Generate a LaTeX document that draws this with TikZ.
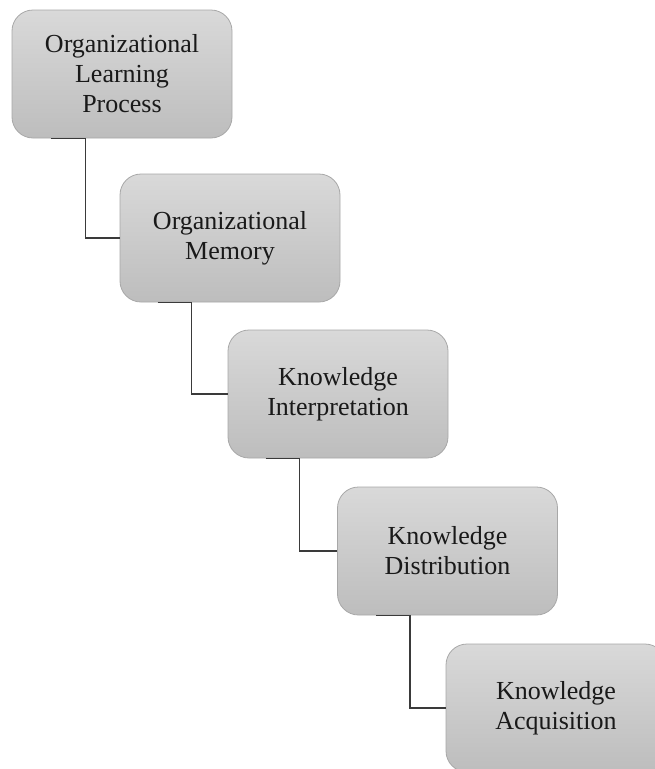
\documentclass[tikz,border=0pt]{standalone}
\usepackage{fontspec}
\setmainfont{Liberation Serif}
\definecolor{boxtop}{HTML}{D9D9D9}
\definecolor{boxbot}{HTML}{BDBDBD}
\definecolor{boxline}{HTML}{A8A8A8}
\definecolor{conn}{HTML}{3A3A3A}
\begin{document}
\begin{tikzpicture}[x=1pt,y=-1pt,
  stagebox/.style={draw=boxline, line width=0.8pt, rounded corners=21pt,
    top color=boxtop, bottom color=boxbot, minimum width=220pt, minimum height=128pt,
    inner sep=0pt, align=center, font=\fontsize{26}{30}\selectfont, text=black!90},
  link/.style={draw=conn, line width=1.4pt}]
\useasboundingbox (0,0) rectangle (655,769);
\begin{scope}
\clip (0,0) rectangle (655,769);
\node[stagebox] (b1) at (122,74) {Organizational\\Learning\\Process};
\node[stagebox] (b2) at (230,238) {Organizational\\Memory};
\node[stagebox] (b3) at (338,394) {Knowledge\\Interpretation};
\node[stagebox] (b4) at (447.5,551) {Knowledge\\Distribution};
\node[stagebox] (b5) at (556,708) {Knowledge\\Acquisition};
\draw[link] ([xshift=39pt]b1.south west) -- ([xshift=74pt]b1.south west) |- (b2.west);
\draw[link] ([xshift=38pt]b2.south west) -- ([xshift=72pt]b2.south west) |- (b3.west);
\draw[link] ([xshift=38pt]b3.south west) -- ([xshift=72pt]b3.south west) |- (b4.west);
\draw[link] ([xshift=39pt]b4.south west) -- ([xshift=73pt]b4.south west) |- (b5.west);
\end{scope}
\end{tikzpicture}
\end{document}
